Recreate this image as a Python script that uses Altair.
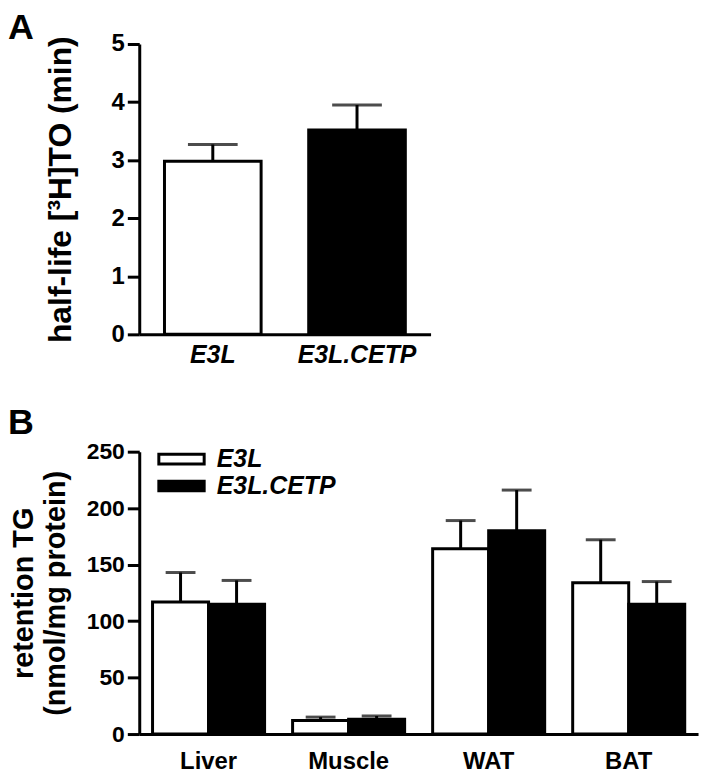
import altair as alt
import pandas as pd

FONT = "Liberation Sans"

# ---------------- data ----------------
panel_letters = ["A", "B"]

# Panel A: half-life of [3H]TO
groups = ["E3L", "E3L.CETP"]
group_colors = ["white", "black"]
halflife_mean = [2.98, 3.52]
halflife_sem = [0.29, 0.43]
halflife_ticks = [0, 1, 2, 3, 4, 5]

# Panel B: retention TG per tissue
tissues = ["Liver", "Muscle", "WAT", "BAT"]
tg_e3l_mean = [117, 12, 164, 134]
tg_e3l_sem = [26, 3, 25, 38]
tg_cetp_mean = [115, 13, 180, 115]
tg_cetp_sem = [21, 3, 36, 20]
tg_ticks = [0, 50, 100, 150, 200, 250]

# ---------------- tables ----------------
dfA = pd.DataFrame({"group": groups, "mean": halflife_mean, "sem": halflife_sem})
dfA["upper"] = dfA["mean"] + dfA["sem"]

rowsB = []
for i, t in enumerate(tissues):
    rowsB.append({"tissue": t, "group": groups[0], "mean": tg_e3l_mean[i], "sem": tg_e3l_sem[i]})
    rowsB.append({"tissue": t, "group": groups[1], "mean": tg_cetp_mean[i], "sem": tg_cetp_sem[i]})
dfB = pd.DataFrame(rowsB)
dfB["upper"] = dfB["mean"] + dfB["sem"]

# ---------------- panel A ----------------
xA = alt.X("group:N", sort=groups,
           scale=alt.Scale(paddingInner=0.33, paddingOuter=0.175),
           axis=alt.Axis(title=None, labelAngle=0, ticks=False, tickSize=0, labelPadding=8,
                         labelFontSize=25, labelFontStyle="italic", labelFontWeight="bold"))
yA = alt.Y("mean:Q", scale=alt.Scale(domain=[0, 5], nice=False),
           axis=alt.Axis(values=halflife_ticks, format="d", title="half-life [³H]TO (min)",
                         titleFontSize=32, titleFontWeight="bold", titlePadding=34,
                         tickSize=12, labelPadding=3, labelFontSize=24, labelFontWeight="bold"))
fillA = alt.Fill("group:N", scale=alt.Scale(domain=groups, range=group_colors), legend=None)

baseA = alt.Chart(dfA)
barsA = baseA.mark_bar(stroke="black", strokeWidth=3).encode(x=xA, y=yA, fill=fillA)
errA = baseA.mark_rule(strokeWidth=3, color="black").encode(
    x=alt.X("group:N", sort=groups), y="mean:Q", y2="upper:Q")
capA = baseA.mark_tick(orient="horizontal", size=50, thickness=3, color="black").encode(
    x=alt.X("group:N", sort=groups), y="upper:Q")
letterA = alt.Chart(pd.DataFrame({"t": [panel_letters[0]]})).mark_text(
    font=FONT, fontSize=36, fontWeight="bold", align="left", baseline="top", color="black"
).encode(text="t:N", x=alt.value(-132), y=alt.value(-33))

panelA = alt.layer(barsA, errA, capA, letterA).properties(width=293, height=292)

# ---------------- panel B ----------------
xB = alt.X("tissue:N", sort=tissues,
           scale=alt.Scale(paddingInner=0.2, paddingOuter=0.095),
           axis=alt.Axis(title=None, labelAngle=0, ticks=False, tickSize=0, labelPadding=16,
                         labelFontSize=24, labelFontWeight="bold"))
xoffB = alt.XOffset("group:N", sort=groups, scale=alt.Scale(domain=groups, paddingInner=0, paddingOuter=0))
yB = alt.Y("mean:Q", scale=alt.Scale(domain=[0, 250], nice=False),
           axis=alt.Axis(values=tg_ticks, format="d", title=["retention TG", "(nmol/mg protein)"],
                         titleFontSize=29, titleFontWeight="bold", titleLineHeight=32, titlePadding=16,
                         tickSize=12, labelPadding=3, labelFontSize=23, labelFontWeight="bold"))
fillB = alt.Fill("group:N", scale=alt.Scale(domain=groups, range=group_colors),
                 legend=alt.Legend(title=None, orient="none", legendX=29, legendY=-6,
                                   symbolType="M-1.9,-0.4H1.9V0.4H-1.9Z", symbolSize=576,
                                   symbolStrokeColor="black", symbolStrokeWidth=3,
                                   labelFont=FONT, labelFontSize=25, labelFontStyle="italic",
                                   labelFontWeight="bold", labelColor="black",
                                   labelOffset=22, rowPadding=-4, padding=0))

baseB = alt.Chart(dfB)
barsB = baseB.mark_bar(stroke="black", strokeWidth=3).encode(x=xB, xOffset=xoffB, y=yB, fill=fillB)
errB = baseB.mark_rule(strokeWidth=3, color="black").encode(
    x=alt.X("tissue:N", sort=tissues), xOffset=alt.XOffset("group:N", sort=groups),
    y="mean:Q", y2="upper:Q")
capB = baseB.mark_tick(orient="horizontal", size=30, thickness=3, color="black").encode(
    x=alt.X("tissue:N", sort=tissues), xOffset=alt.XOffset("group:N", sort=groups), y="upper:Q")
letterB = alt.Chart(pd.DataFrame({"t": [panel_letters[1]]})).mark_text(
    font=FONT, fontSize=36, fontWeight="bold", align="left", baseline="top", color="black"
).encode(text="t:N", x=alt.value(-132), y=alt.value(-46))

panelB = alt.layer(barsB, errB, capB, letterB).properties(width=562, height=284)

chart = alt.vconcat(panelA, panelB, spacing=38).resolve_scale(
    x="independent", y="independent", fill="independent"
).configure(font=FONT).configure_axis(
    domainColor="black", domainWidth=3, tickColor="black", tickWidth=3,
    labelColor="black", titleColor="black", labelFont=FONT, titleFont=FONT, grid=False
).configure_view(stroke=None).properties(
    padding={"left": 0, "top": 0, "right": 5, "bottom": 5}
)

chart.save("out.html", embed_options={"renderer": "svg", "actions": False})
